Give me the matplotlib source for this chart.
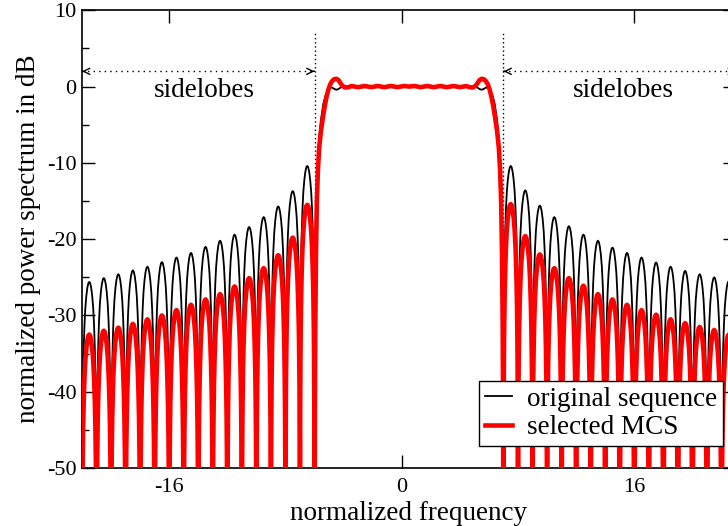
import numpy as np
import matplotlib
matplotlib.use('Agg')
import matplotlib.pyplot as plt

plt.rcParams['font.family'] = ['Liberation Serif', 'DejaVu Serif']
plt.rcParams['axes.unicode_minus'] = False

# ---------------- data ----------------
# sidelobes: each lobe spans [start, start+1], peak at start+0.5
left_lobe_starts = list(range(-22, -6))     # -22 ... -7
right_lobe_starts = list(range(7, 23))      # 7 ... 22
orig_left_peaks = [-25.6, -25.1, -24.6, -24.1, -23.6, -23.0, -22.4, -21.8,
                   -21.0, -20.2, -19.4, -18.4, -17.1, -15.7, -13.7, -10.4]
orig_right_peaks = [-10.4, -13.6, -15.6, -17.1, -18.3, -19.4, -20.2, -21.1,
                    -21.8, -22.4, -23.05, -23.6, -24.15, -24.6, -25.0, -25.5]
mcs_left_peaks = [-32.5, -32.0, -31.6, -31.1, -30.5, -30.0, -29.3, -28.6,
                  -27.9, -27.2, -26.2, -25.1, -23.8, -22.1, -19.8, -15.5]
mcs_right_peaks = [-15.4, -19.6, -22.0, -23.8, -25.1, -26.1, -27.2, -27.9,
                   -28.6, -29.3, -29.9, -30.5, -31.0, -31.5, -31.9, -32.5]
# shape of one lobe (fraction of lobe width -> dB below the peak), first half
lobe_t = [0.0, 0.004, 0.015, 0.03, 0.05, 0.08, 0.12, 0.17, 0.23, 0.3, 0.37, 0.44, 0.5]
lobe_db = [-90, -38, -26.5, -20.5, -16.1, -12.0, -8.6, -5.7, -3.4, -1.8, -0.75, -0.15, 0.0]

# main lobe, centre at 0.5: distance from centre -> dB
main_center = 0.5
orig_main_d = [6.5, 6.48, 6.45, 6.4, 6.33, 6.25, 6.15, 6.06, 5.9, 5.75, 5.6,
               5.45, 5.3, 5.15, 5.0, 4.85, 4.7, 4.5, 4.0, 3.0, 2.0, 1.0, 0.0]
orig_main_db = [-90, -45, -30, -20, -14, -9.5, -6.3, -4.4, -2.3, -1.2, -0.55,
                -0.15, -0.12, -0.3, -0.42, -0.32, -0.12, 0.0, 0.03, -0.02, 0.02, -0.02, 0.0]
mcs_main_d = [6.5, 6.48, 6.45, 6.4, 6.34, 6.27, 6.18, 6.06, 5.92, 5.8, 5.68,
              5.55, 5.42, 5.28, 5.14, 5.0, 4.85, 4.7, 4.55, 4.4, 4.2, 3.95,
              3.5, 3.05, 2.6, 2.15, 1.7, 1.25, 0.8, 0.35, 0.0]
mcs_main_db = [-90, -45, -32, -22, -15, -11, -8, -5.8, -4.0, -2.6, -1.4,
               -0.4, 0.3, 0.75, 0.97, 1.02, 0.85, 0.4, 0.05, -0.12, -0.1, 0.07,
               -0.08, 0.08, -0.08, 0.08, -0.08, 0.08, -0.08, 0.08, 0.0]

xlim = (-22, 23)
ylim = (-50, 10)
xticks = [-16, 0, 16]
yticks = [10, 0, -10, -20, -30, -40, -50]
left_region = (-22, -6)
right_region = (7, 23)
arrow_y = 2
vline_top = 7


def build(left_peaks, right_peaks, md, mdb):
    tf = lobe_t + [1 - t for t in reversed(lobe_t[:-1])]
    df = lobe_db + list(reversed(lobe_db[:-1]))
    xs, ys = [], []
    for s, p in zip(left_lobe_starts, left_peaks):
        xs += [s + t for t in tf]
        ys += [p + d for d in df]
    xs += [main_center - d for d in md]
    ys += list(mdb)
    xs += [main_center + d for d in reversed(md)]
    ys += list(reversed(mdb))
    for s, p in zip(right_lobe_starts, right_peaks):
        xs += [s + t for t in tf]
        ys += [p + d for d in df]
    return np.array(xs), np.array(ys)


x_o, y_o = build(orig_left_peaks, orig_right_peaks, orig_main_d, orig_main_db)
x_m, y_m = build(mcs_left_peaks, mcs_right_peaks, mcs_main_d, mcs_main_db)

# ---------------- figure ----------------
fig = plt.figure(figsize=(7.28, 5.26), dpi=100)
ax = fig.add_axes([82 / 728, 1 - 468 / 526, (736 - 82) / 728, (468 - 10.3) / 526])

# annotations (behind curves)
for xv in (left_region[1], right_region[0]):
    ax.plot([xv, xv], [ylim[0], vline_top], color='black', lw=1.0,
            linestyle=(0, (1, 2)), zorder=1)
for (a, b) in (left_region, right_region):
    ax.plot([a, b], [arrow_y, arrow_y], color='black', lw=1.0,
            linestyle=(0, (1, 3)), zorder=1)
    for tip, back in ((a, a + 0.05), (b, b - 0.05)):
        ax.annotate('', xy=(tip, arrow_y), xytext=(back, arrow_y),
                    arrowprops=dict(arrowstyle='->,head_length=0.45,head_width=0.22',
                                    lw=1.0, color='black', shrinkA=0, shrinkB=0),
                    annotation_clip=False)

ax.plot(x_o, y_o, color='black', lw=1.3, zorder=3, label='original sequence')
ax.plot(x_m, y_m, color='#ff0000', lw=3.3, zorder=4, label='selected MCS')

ax.text(-13.57, -1.3, 'sidelobes', fontsize=19.5, ha='center', va='baseline')
ax.text(15.23, -1.3, 'sidelobes', fontsize=19.5, ha='center', va='baseline')

ax.set_xlim(*xlim)
ax.set_ylim(*ylim)
ax.set_xticks(xticks)
ax.set_xticklabels([str(v) for v in xticks])
ax.set_yticks(yticks)
ax.set_yticklabels([str(v) for v in yticks])
ax.set_yticks(np.arange(-45, 10, 10), minor=True)
ax.tick_params(which='both', direction='in', top=True, right=True, width=1.0,
               labelsize=16)
ax.tick_params(which='major', length=9.5)
ax.tick_params(which='minor', length=5)
ax.tick_params(axis='x', pad=7)
ax.tick_params(axis='y', pad=4)
for sp in ax.spines.values():
    sp.set_linewidth(1.2)

ax.set_xlabel('normalized frequency', fontsize=19.5, labelpad=3)
ax.set_ylabel('normalized power spectrum in dB', fontsize=19.5, labelpad=4)

leg = ax.legend(loc='lower right', bbox_to_anchor=(0.980, 0.048),
                borderaxespad=0, fontsize=19.5, frameon=True, fancybox=False,
                handlelength=1.0, handletextpad=0.55, labelspacing=0.12,
                borderpad=0.22)
leg.get_frame().set_edgecolor('black')
leg.get_frame().set_linewidth(1.0)
leg.get_frame().set_alpha(1)
leg.set_zorder(10)

fig.savefig('out.png', dpi=100)
